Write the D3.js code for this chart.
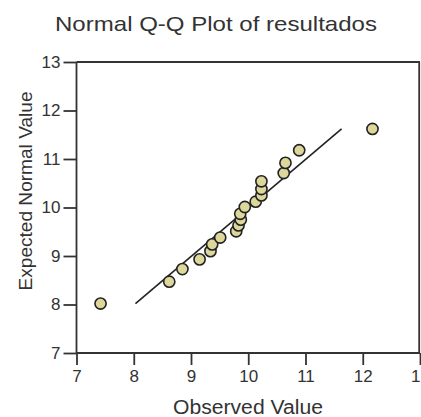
<!DOCTYPE html>
<html>
<head>
<meta charset="utf-8">
<script src="https://cdn.jsdelivr.net/npm/d3@7"></script>
<style>
  html, body { margin: 0; padding: 0; background: #fff; }
  svg { display: block; }
  text { font-family: "Liberation Sans", Arial, sans-serif; fill: #333; }
</style>
</head>
<body>
<div id="chart"></div>
<script>
const title = "Normal Q-Q Plot of resultados";
const xLabel = "Observed Value";
const yLabel = "Expected Normal Value";
const xTicks = [7, 8, 9, 10, 11, 12, 13];
const yTicks = [7, 8, 9, 10, 11, 12, 13];
const observed = [7.42, 8.62, 8.85, 9.15, 9.34, 9.37, 9.51, 9.79, 9.83, 9.87,
                  9.86, 9.94, 10.13, 10.23, 10.23, 10.23, 10.62, 10.65, 10.89, 12.17];
const expected = [8.02, 8.47, 8.73, 8.93, 9.10, 9.24, 9.38, 9.51, 9.63, 9.75,
                  9.87, 10.01, 10.12, 10.25, 10.38, 10.54, 10.71, 10.92, 11.18, 11.62];
const refLineX = [8.03, 11.63];
const refLineY = [8.02, 11.62];

const W = 421, H = 417;
const svg = d3.select("#chart").append("svg").attr("width", W).attr("height", H);

const x = d3.scaleLinear().domain([7, 13]).range([76.5, 420]);
const y = d3.scaleLinear().domain([7, 13]).range([353, 62]);

// frame (top & right)
svg.append("line").attr("x1", x(7)).attr("x2", x(13)).attr("y1", y(13)).attr("y2", y(13))
  .attr("stroke", "#333").attr("stroke-width", 1.8);
svg.append("line").attr("x1", x(13) - 0.8).attr("x2", x(13) - 0.8).attr("y1", y(13)).attr("y2", y(7))
  .attr("stroke", "#333").attr("stroke-width", 1.8);

// axes
const xAxis = d3.axisBottom(x).tickValues(xTicks).tickSize(12).tickPadding(5).tickFormat(d3.format("d"));
const yAxis = d3.axisLeft(y).tickValues(yTicks).tickSize(13).tickPadding(3).tickFormat(d3.format("d"));

const gx = svg.append("g").attr("transform", `translate(0,${y(7)})`).call(xAxis);
const gy = svg.append("g").attr("transform", `translate(${x(7)},0)`).call(yAxis);
[gx, gy].forEach(g => {
  g.select(".domain").attr("stroke", "#333").attr("stroke-width", 1.8);
  g.selectAll(".tick line").attr("stroke", "#333").attr("stroke-width", 1.8);
  g.selectAll(".tick text").style("font-family", "'Liberation Sans', Arial, sans-serif")
    .style("font-size", "17px").attr("fill", "#3a3a3a");
});
gx.select(".domain").attr("d", `M${x(7)},0H${x(13)}`);
gy.select(".domain").attr("d", `M0,${y(7)}V${y(13)}`);

// reference line
svg.append("line")
  .attr("x1", x(refLineX[0])).attr("y1", y(refLineY[0]))
  .attr("x2", x(refLineX[1])).attr("y2", y(refLineY[1]))
  .attr("stroke", "#222").attr("stroke-width", 1.6);

// points
svg.append("g").selectAll("circle").data(observed.map((o, i) => [o, expected[i]]))
  .join("circle")
  .attr("cx", d => x(d[0])).attr("cy", d => y(d[1]))
  .attr("r", 5.6)
  .attr("fill", "#ddd79c").attr("stroke", "#222").attr("stroke-width", 1.6);

// titles
svg.append("text").attr("x", 216).attr("y", 31).attr("text-anchor", "middle")
  .attr("textLength", 322).attr("lengthAdjust", "spacingAndGlyphs")
  .style("font-size", "21px").attr("fill", "#3a3a3a").text(title);
svg.append("text").attr("x", 248).attr("y", 414).attr("text-anchor", "middle")
  .attr("textLength", 150).attr("lengthAdjust", "spacingAndGlyphs")
  .style("font-size", "20px").attr("fill", "#3a3a3a").text(xLabel);
svg.append("text").attr("transform", "translate(32,191) rotate(-90)").attr("text-anchor", "middle")
  .attr("textLength", 199).attr("lengthAdjust", "spacingAndGlyphs")
  .style("font-size", "19px").attr("fill", "#3a3a3a").text(yLabel);
</script>
</body>
</html>
